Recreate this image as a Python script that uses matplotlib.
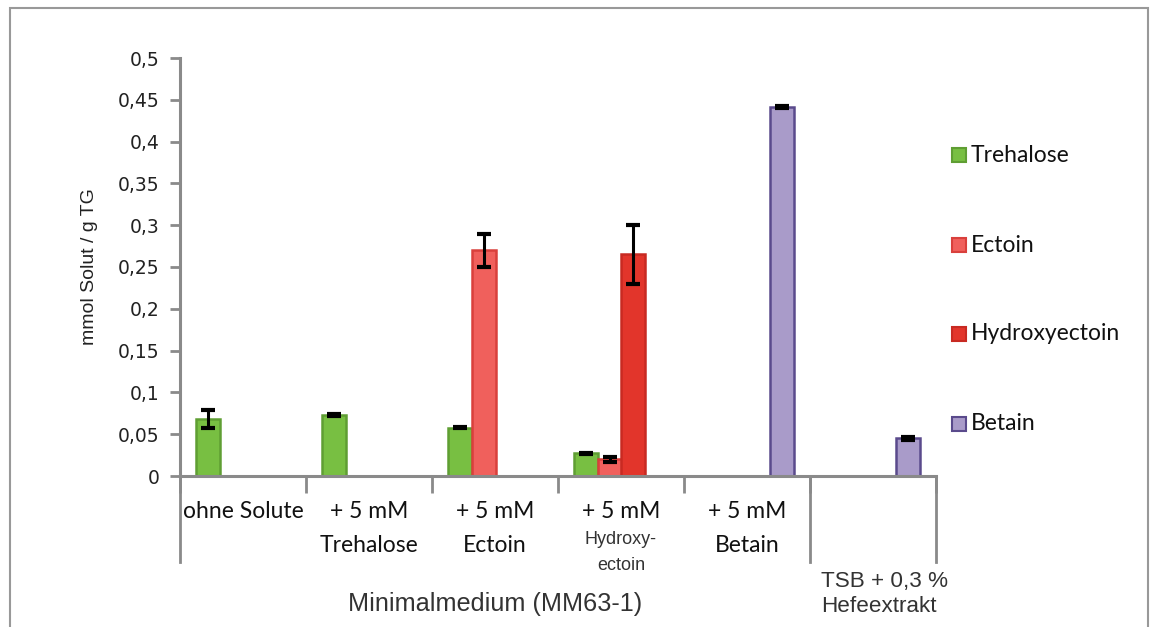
import matplotlib
matplotlib.use("Agg")
import matplotlib.pyplot as plt
from matplotlib.patches import Rectangle
from matplotlib.lines import Line2D
import numpy as np

# ---- data ----
categories = ["ohne Solute", "+ 5 mM\nTrehalose", "+ 5 mM\nEctoin", "+ 5 mM\nHydroxy-ectoin", "+ 5 mM\nBetain", "TSB + 0,3 %\nHefeextrakt"]
series_names = ["Trehalose", "Ectoin", "Hydroxyectoin", "Betain"]
trehalose = [0.068, 0.073, 0.058, 0.027, 0.0, 0.0]
trehalose_err = [0.011, 0.001, 0.001, 0.001, 0.0, 0.0]
ectoin = [0.0, 0.0, 0.270, 0.020, 0.0, 0.0]
ectoin_err = [0.0, 0.0, 0.020, 0.003, 0.0, 0.0]
hydroxyectoin = [0.0, 0.0, 0.0, 0.265, 0.0, 0.0]
hydroxyectoin_err = [0.0, 0.0, 0.0, 0.035, 0.0, 0.0]
betain = [0.0, 0.0, 0.0, 0.0, 0.441, 0.045]
betain_err = [0.0, 0.0, 0.0, 0.0, 0.001, 0.002]
yticks = [0, 0.05, 0.1, 0.15, 0.2, 0.25, 0.3, 0.35, 0.4, 0.45, 0.5]
ytick_labels = ["0", "0,05", "0,1", "0,15", "0,2", "0,25", "0,3", "0,35", "0,4", "0,45", "0,5"]

values = [trehalose, ectoin, hydroxyectoin, betain]
errors = [trehalose_err, ectoin_err, hydroxyectoin_err, betain_err]
faces = ["#78bf42", "#f0605c", "#e2352b", "#a99bc9"]
edges = ["#5f9e33", "#d9403c", "#c82a22", "#5a4a8c"]

W, H = 1157, 627
fig = plt.figure(figsize=(W / 100, H / 100), dpi=100)
ax = fig.add_axes([180 / W, 1 - 476 / H, (936 - 180) / W, (476 - 58) / H])

axis_gray = "#8a8a8a"
calib = ["Lato", "DejaVu Sans"]
arial = ["Liberation Sans", "DejaVu Sans"]

x = np.arange(len(categories))
for j, (vals, errs) in enumerate(zip(values, errors)):
    pos = x + 0.225 + 0.185 * j
    for p, v, e in zip(pos, vals, errs):
        if v <= 0:
            continue
        ax.bar(p, v, width=0.19, color=faces[j], edgecolor=edges[j], linewidth=1.8, zorder=2)
        ax.errorbar(p, v, yerr=e, fmt="none", ecolor="black", elinewidth=2.2,
                    capsize=5, capthick=3, zorder=3)

ax.set_xlim(0, len(categories))
ax.set_ylim(0, 0.5)
ax.set_yticks(yticks)
ax.set_yticklabels(ytick_labels, fontsize=13.5, family="DejaVu Sans", color="#222222")
ax.tick_params(axis="y", direction="out", length=7, width=2, color=axis_gray, pad=8)
ax.set_xticks(np.arange(len(categories) + 1))
ax.set_xticklabels([])
ax.tick_params(axis="x", direction="out", length=12, width=2, color=axis_gray)
for s in ["top", "right"]:
    ax.spines[s].set_visible(False)
for s in ["left", "bottom"]:
    ax.spines[s].set_color(axis_gray)
    ax.spines[s].set_linewidth(2.2)

# long separator ticks
trans = ax.get_xaxis_transform()
for xb in [0, 5, 6]:
    ax.add_line(Line2D([xb, xb], [0, -(562 - 476) / (476 - 58)], transform=trans,
                       color=axis_gray, lw=2, clip_on=False))

ax.set_ylabel("mmol Solut / g TG", fontsize=14, family=arial, labelpad=14, color="#222222")

def ty(px):
    return -(px - 476) / (476 - 58)

fs_cat = 16.5
# category labels
ax.text(0.5, ty(512), "ohne Solute", transform=trans, ha="center", va="center", fontsize=fs_cat, family=calib, color="#111111")
for i, lab in [(1, "Trehalose"), (2, "Ectoin"), (4, "Betain")]:
    ax.text(i + 0.5, ty(512), "+ 5 mM", transform=trans, ha="center", va="center", fontsize=fs_cat, family=calib, color="#111111")
    ax.text(i + 0.5, ty(545), lab, transform=trans, ha="center", va="center", fontsize=fs_cat, family=calib, color="#111111")
ax.text(3.5, ty(512), "+ 5 mM", transform=trans, ha="center", va="center", fontsize=fs_cat, family=calib, color="#111111")
ax.text(3.5, ty(540), "Hydroxy-", transform=trans, ha="center", va="center", fontsize=13, family=arial, color="#333333")
ax.text(3.5, ty(566), "ectoin", transform=trans, ha="center", va="center", fontsize=13, family=arial, color="#333333")

ax.text(2.5, ty(604), "Minimalmedium (MM63-1)", transform=trans, ha="center", va="center", fontsize=18.2, family=arial, color="#333333")
ax.text(5.09, ty(582), "TSB + 0,3 %", transform=trans, ha="left", va="center", fontsize=16.2, family=arial, color="#333333")
ax.text(5.09, ty(606), "Hefeextrakt", transform=trans, ha="left", va="center", fontsize=16.2, family=arial, color="#333333")

# legend
leg_y = [155, 245, 334, 424]
for name, fc, ec, yy in zip(series_names, faces, edges, leg_y):
    fig.patches.append(Rectangle((952 / W, 1 - (yy + 7) / H), 14 / W, 14 / H, transform=fig.transFigure,
                                 facecolor=fc, edgecolor=ec, linewidth=1.5))
    fig.text(971 / W, 1 - yy / H, name, ha="left", va="center", fontsize=16.5, family=calib, color="#111111")

# outer border
fig.patches.append(Rectangle((10 / W, -0.05), (1148 - 10) / W, 1.05 - 8 / H, transform=fig.transFigure,
                             fill=False, edgecolor="#999999", linewidth=1.5))

fig.savefig("out.png", dpi=100)
